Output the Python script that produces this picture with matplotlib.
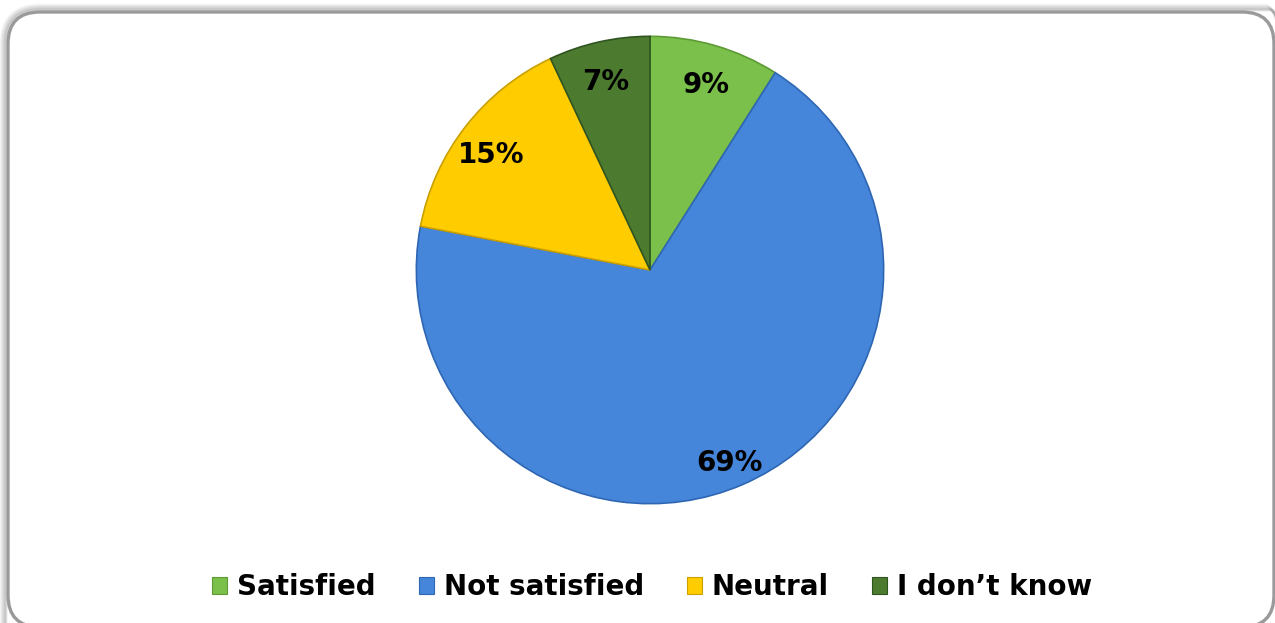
import matplotlib.pyplot as plt
from matplotlib.patches import FancyBboxPatch, Patch

# survey answers
labels = ['Satisfied', 'Not satisfied', 'Neutral', "I don\u2019t know"]
shares = [9, 69, 15, 7]
colors = ['#7AC04A', '#4586DA', '#FFCC00', '#4C7B30']
edges = ['#5E9A35', '#2F66B3', '#C9A000', '#2F5420']

W, H = 1275, 623
fig = plt.figure(figsize=(W / 100, H / 100), dpi=100)
fig.patch.set_facecolor('white')

# rounded card with a soft shadow above and to the left
bx, by, bw, bh, rad = 8, -4, 1266, 615, 32
for i, a in enumerate([0.03, 0.04, 0.05, 0.07, 0.09, 0.11]):
    g = 7 - i
    shadow = FancyBboxPatch((bx - g, by - 30), bw + g + 30, bh + g + 30,
                            boxstyle='round,pad=0,rounding_size=%d' % (rad + g),
                            transform=None, facecolor='none',
                            edgecolor=(0, 0, 0, a), linewidth=2.0, zorder=-3)
    fig.patches.append(shadow)
card = FancyBboxPatch((bx, by), bw, bh,
                      boxstyle='round,pad=0,rounding_size=%d' % rad,
                      transform=None, facecolor='white',
                      edgecolor='#9A9A9C', linewidth=2.4, zorder=-2)
fig.patches.append(card)

# pie axes: centre (650, 270) from top, radius 236 px
cx, cy, r = 650, 270, 236
ax = fig.add_axes([(cx - r) / W, (H - cy - r) / H, 2 * r / W, 2 * r / H])
ax.set_zorder(2)
ax.patch.set_visible(False)
wedges, texts = ax.pie(shares, colors=colors, startangle=90, counterclock=False,
                       radius=1, labels=[f'{v}%' for v in shares],
                       labeldistance=0.86,
                       textprops=dict(fontsize=20, fontweight='bold',
                                      color='black', family='DejaVu Sans',
                                      ha='center', va='center'),
                       wedgeprops=dict(linewidth=1.2))
for w, e in zip(wedges, edges):
    w.set_edgecolor(e)
# drop the percentages a touch so the digits sit centred
for t in texts:
    x, y = t.get_position()
    t.set_position((x, y - 0.035))
ax.set_xlim(-1.01, 1.01)
ax.set_ylim(-1.01, 1.01)
ax.axis('off')

handles = [Patch(facecolor=c, edgecolor=e, linewidth=0.8) for c, e in zip(colors, edges)]
leg = fig.legend(handles, labels, loc='center', bbox_to_anchor=(652 / W, 1 - 587 / H),
                 ncol=4, frameon=False, handlelength=0.55, handleheight=0.55,
                 handletextpad=0.35, columnspacing=1.55,
                 prop=dict(size=20, weight='bold', family='DejaVu Sans'))
leg.set_zorder(3)

fig.savefig('out.png', dpi=100, facecolor='white')
